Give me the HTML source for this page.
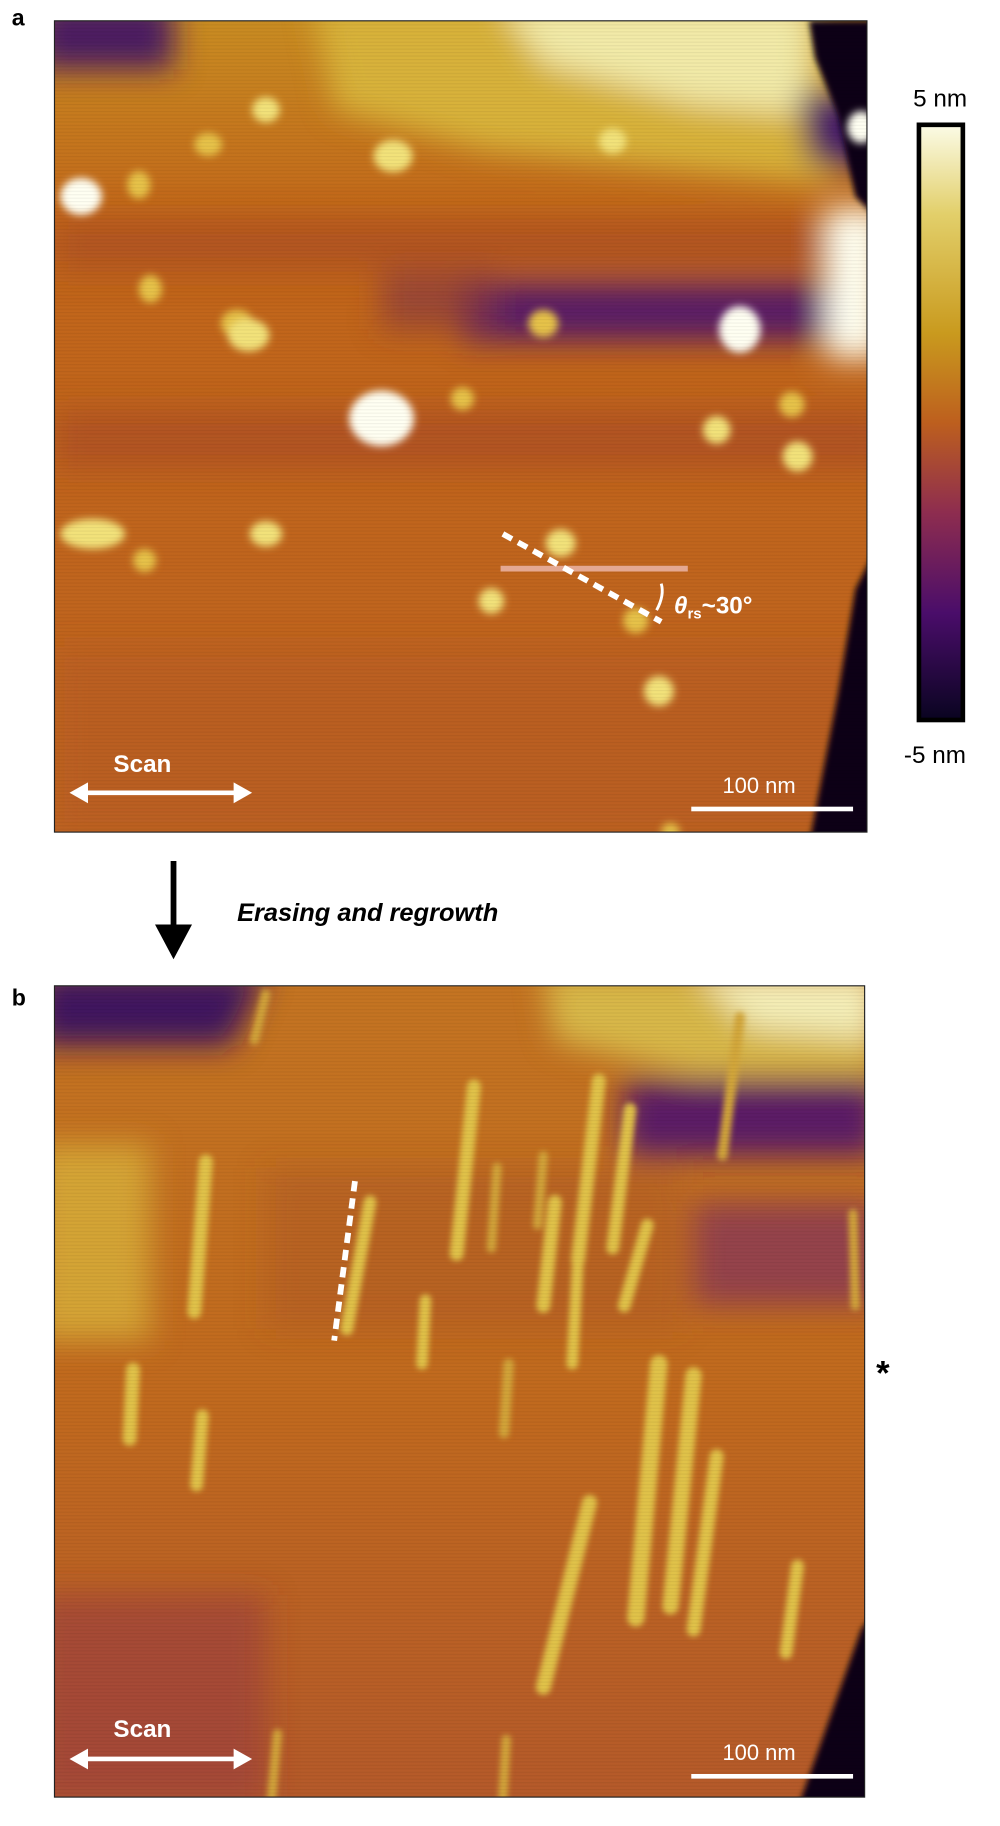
<!DOCTYPE html>
<html><head><meta charset="utf-8"><style>
html,body{margin:0;padding:0;background:#fff;}
svg{display:block;}
text{font-family:"Liberation Sans",Arial,sans-serif;}
</style></head><body>
<svg id="fig" width="1000" height="1826" viewBox="0 0 865 1580" xmlns="http://www.w3.org/2000/svg">
<defs>
<filter id="b6" x="-50%" y="-50%" width="200%" height="200%"><feGaussianBlur stdDeviation="3.5"/></filter>
<filter id="b15" x="-50%" y="-50%" width="200%" height="200%"><feGaussianBlur stdDeviation="13"/></filter>
<filter id="b3" x="-50%" y="-50%" width="200%" height="200%"><feGaussianBlur stdDeviation="2.5"/></filter>
<linearGradient id="cbar" x1="0" y1="0" x2="0" y2="1">
<stop offset="0" stop-color="#fbfbe6"/><stop offset="0.15" stop-color="#e2cf6a"/><stop offset="0.35" stop-color="#c99a1e"/>
<stop offset="0.5" stop-color="#bd5f1e"/><stop offset="0.65" stop-color="#8e2d4f"/><stop offset="0.82" stop-color="#4a0d6a"/><stop offset="1" stop-color="#090420"/>
</linearGradient>
<linearGradient id="bgA" x1="0" y1="0" x2="0" y2="1">
<stop offset="0" stop-color="#c98c22"/><stop offset="0.25" stop-color="#c2661a"/><stop offset="1" stop-color="#bf6420"/>
</linearGradient>
<linearGradient id="bgB" x1="0" y1="0" x2="0" y2="1">
<stop offset="0" stop-color="#c47422"/><stop offset="0.5" stop-color="#c16a1e"/><stop offset="1" stop-color="#b55a2a"/>
</linearGradient>
<pattern id="scan" width="4" height="3" patternUnits="userSpaceOnUse"><rect width="4" height="1" fill="#000" opacity="0.05"/></pattern>
<clipPath id="clipA"><rect x="47" y="18" width="703" height="702"/></clipPath>
<clipPath id="clipB"><rect x="47" y="853" width="701" height="702"/></clipPath>
</defs>

<text x="10" y="22" font-size="20" font-weight="bold">a</text>
<g clip-path="url(#clipA)">
<rect x="47" y="18" width="703" height="702" fill="url(#bgA)"/>
<g filter="url(#b15)">
<rect x="30" y="0" width="120" height="60" fill="#4c1a62"/>
<polygon points="270,0 720,0 720,160 620,150 420,130 290,95" fill="#d8b23a"/>
<polygon points="430,0 700,0 700,100 600,90 470,55" fill="#f2eaa8"/>
<rect x="47" y="190" width="720" height="45" fill="#ad4f24" opacity="0.7"/>
<rect x="400" y="245" width="330" height="50" fill="#5a1e66"/>
<rect x="330" y="235" width="100" height="50" fill="#8a3a40" opacity="0.7"/>
<rect x="47" y="355" width="720" height="50" fill="#a84a2a" opacity="0.6"/>
<polygon points="690,80 760,80 760,150 700,140" fill="#4a1a68"/>
<rect x="715" y="180" width="50" height="130" fill="#fffff0"/>
<rect x="47" y="560" width="720" height="160" fill="#b45a28" opacity="0.4"/>
</g>
<polygon points="700,18 760,18 760,190 740,170 725,100 705,50" fill="#0b0418" filter="url(#b3)"/>
<polygon points="700,730 760,730 760,470 740,510 725,600" fill="#0b0418" filter="url(#b3)"/>
<g id="blobsA" filter="url(#b6)"></g>
<rect x="47" y="18" width="703" height="702" fill="url(#scan)"/>
</g>
<rect x="47" y="18" width="703" height="702" fill="none" stroke="#222" stroke-width="1"/>
<line x1="433" y1="492" x2="595" y2="492" stroke="#e8b0a0" stroke-width="5" opacity="0.9"/>
<line x1="435" y1="462" x2="572" y2="538" stroke="#fff" stroke-width="5" stroke-dasharray="9,6"/>
<path d="M572,505 Q575,515 568,528" stroke="#fff" stroke-width="2.5" fill="none"/>
<text x="583" y="531" font-size="21" font-weight="bold" fill="#fff"><tspan font-style="italic">θ</tspan><tspan font-size="13" dy="4">rs</tspan><tspan dy="-4">~30°</tspan></text>
<g>
<text x="98" y="668" font-size="21" font-weight="bold" fill="#fff">Scan</text>
<line x1="70" y1="686" x2="208" y2="686" stroke="#fff" stroke-width="4"/>
<polygon points="60,686 76,677 76,695" fill="#fff"/><polygon points="218,686 202,677 202,695" fill="#fff"/>
</g>
<g>
<text x="625" y="686" font-size="19" fill="#fff">100 nm</text>
<rect x="598" y="698" width="140" height="4" fill="#fff"/>
</g>

<g>
<text x="790" y="92" font-size="21">5 nm</text>
<rect x="795" y="108" width="38" height="515" fill="url(#cbar)" stroke="#000" stroke-width="4"/>
<text x="782" y="660" font-size="21">-5 nm</text>
</g>

<g>
<line x1="150" y1="745" x2="150" y2="808" stroke="#000" stroke-width="5"/>
<polygon points="134,800 166,800 150,830" fill="#000"/>
</g>
<text x="205" y="797" font-size="22" font-weight="bold" font-style="italic">Erasing and regrowth</text>

<text x="10" y="870" font-size="20" font-weight="bold">b</text>
<g clip-path="url(#clipB)">
<rect x="47" y="853" width="701" height="702" fill="url(#bgB)"/>
<g filter="url(#b15)">
<polygon points="30,840 230,840 200,905 30,905" fill="#40125e"/>
<polygon points="470,840 760,840 760,930 600,930 480,900" fill="#d8b848"/>
<polygon points="600,840 760,840 760,900 650,890" fill="#f4eeb8"/>
<rect x="540" y="935" width="220" height="65" fill="#5c1f66"/>
<rect x="600" y="1040" width="160" height="90" fill="#8a3a55" opacity="0.8"/>
<rect x="30" y="990" width="100" height="170" fill="#d6aa38" opacity="0.9"/>
<rect x="30" y="1380" width="200" height="180" fill="#9a3c40" opacity="0.6"/>
<rect x="230" y="1010" width="360" height="140" fill="#a5512e" opacity="0.35"/>
</g>
<polygon points="690,1565 760,1565 760,1390 745,1410" fill="#0b0418" filter="url(#b3)"/>
<g id="streaksB" filter="url(#b3)"></g>
<rect x="47" y="853" width="701" height="702" fill="url(#scan)"/>
</g>
<rect x="47" y="853" width="701" height="702" fill="none" stroke="#222" stroke-width="1"/>
<line x1="307" y1="1022" x2="289" y2="1160" stroke="#fff" stroke-width="5" stroke-dasharray="9,6"/>
<text x="758" y="1198" font-size="30" font-weight="bold">*</text>
<g>
<text x="98" y="1503" font-size="21" font-weight="bold" fill="#fff">Scan</text>
<line x1="70" y1="1522" x2="208" y2="1522" stroke="#fff" stroke-width="4"/>
<polygon points="60,1522 76,1513 76,1531" fill="#fff"/><polygon points="218,1522 202,1513 202,1531" fill="#fff"/>
</g>
<g>
<text x="625" y="1523" font-size="19" fill="#fff">100 nm</text>
<rect x="598" y="1535" width="140" height="4" fill="#fff"/>
</g>
</svg>
<script>
// panel a particle blobs: centre x, centre y, radius x, radius y, brightness level
const blobX = [70,120,180,230,340,130,205,215,470,530,640,330,685,620,690,80,125,230,485,425,550,570,580,745,400];
const blobY = [170,160,125,95,135,250,280,290,280,122,285,362,350,372,395,462,485,462,470,520,537,598,720,110,345];
const blobRX = [18,10,12,12,17,10,14,18,13,12,18,28,11,12,13,28,10,14,13,11,11,13,8,12,10];
const blobRY = [16,12,10,11,14,12,12,14,12,11,20,24,11,12,13,13,10,11,12,11,11,13,8,14,10];
const blobLevel = [0.9,0.6,0.6,0.7,0.8,0.6,0.6,0.8,0.6,0.7,0.9,1,0.6,0.7,0.8,0.7,0.6,0.7,0.7,0.7,0.6,0.7,0.6,0.9,0.5];
// panel b stripes: x1,y1 (top) to x2,y2 (bottom), width
const stX1 = [410,178,320,368,518,545,480,500,560,115,175,570,600,620,510,690,440,230,640,738,438,240,470,430];
const stY1 = [940,1005,1040,1125,935,960,1040,1090,1060,1185,1225,1180,1190,1260,1300,1355,1180,860,880,1050,1505,1500,1000,1010];
const stX2 = [395,168,300,365,500,530,470,495,540,112,170,550,580,600,470,680,436,220,625,740,435,235,465,425];
const stY2 = [1085,1135,1150,1180,1090,1080,1130,1180,1130,1245,1285,1400,1390,1410,1460,1430,1240,900,1000,1130,1555,1555,1060,1080];
const stW = [12,12,11,10,12,11,12,10,11,12,11,15,14,12,13,11,9,8,9,8,8,8,8,8];

const NS='http://www.w3.org/2000/svg';
function colorFor(l){ return l>0.85?'#fffff2':(l>0.65?'#f2e27a':'#e6c24a'); }
const ga=document.getElementById('blobsA');
for(let i=0;i<blobX.length;i++){
  const e=document.createElementNS(NS,'ellipse');
  e.setAttribute('cx',blobX[i]);e.setAttribute('cy',blobY[i]);
  e.setAttribute('rx',blobRX[i]);e.setAttribute('ry',blobRY[i]);
  e.setAttribute('fill',colorFor(blobLevel[i]));
  
  
  ga.appendChild(e);
}
const gb=document.getElementById('streaksB');
for(let i=0;i<stX1.length;i++){
  const l=document.createElementNS(NS,'line');
  l.setAttribute('x1',stX1[i]);l.setAttribute('y1',stY1[i]);
  l.setAttribute('x2',stX2[i]);l.setAttribute('y2',stY2[i]);
  l.setAttribute('stroke',i<16?'#e0c24a':'#d2a63a');
  l.setAttribute('stroke-width',stW[i]);
  l.setAttribute('stroke-linecap','round');
  
  
  gb.appendChild(l);
}
</script>
</body></html>
